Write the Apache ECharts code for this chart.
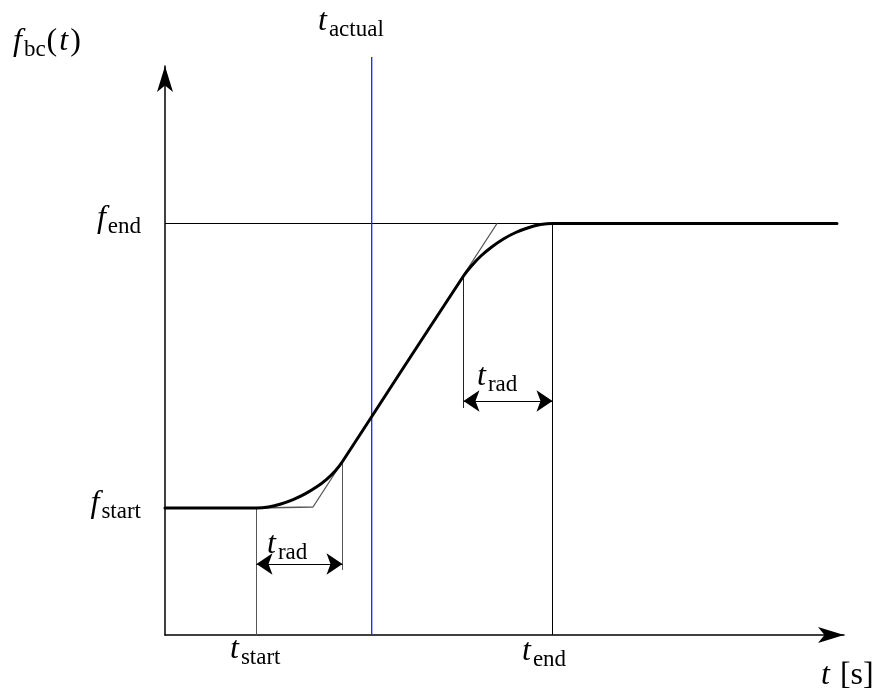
<!DOCTYPE html>
<html>
<head>
<meta charset="utf-8">
<script src="https://cdn.jsdelivr.net/npm/echarts@6/dist/echarts.min.js"></script>
<style>
  html, body { margin: 0; padding: 0; background: #fff; }
  #chart { width: 872px; height: 693px; }
</style>
</head>
<body>
<div id="chart"></div>
<script>
// Key instants and levels of the boundary-condition ramp (arbitrary units)
const T_START = 9.15;
const T_END = 38.75;
const T_ACTUAL = 20.67;
const F_START = 12.7;
const F_END = 41.15;
const T_MAX = 67.9;
const F_MAX = 56.9;
const ACTUAL_TOP = 57.8;

// Smoothed ramp f_bc(t), sampled through the two rounded corners
const curveT = [0, 9.15, 10.35, 11.58, 12.81, 14.01, 15.14, 16.16, 17.04, 17.75, 23.5,
                29.85, 30.64, 31.59, 32.67, 33.84, 35.07, 36.33, 37.56, 38.75, 67.2];
const curveF = [12.7, 12.7, 12.81, 13.10, 13.54, 14.11, 14.79, 15.57, 16.43, 17.35, 26.2,
                35.9, 36.9, 37.9, 38.8, 39.6, 40.25, 40.73, 41.04, 41.15, 41.15];

// Un-rounded linear ramp
const rampT = [9.15, 14.8, 33.2];
const rampF = [12.7, 12.8, 41.15];

// t_rad dimension markers: [t0, t1], arrow level, vertical extent of the inner guide
const radLeftT = [9.15, 17.75];
const radLeftArrowF = 7.1;
const radLeftGuideF = [6.5, 17.35];
const radRightT = [29.85, 38.75];
const radRightArrowF = 23.4;
const radRightGuideF = [22.7, 35.9];

const MATH_FONT = 'Liberation Serif';

function pairs(xs, ys) { return xs.map((x, i) => [x, ys[i]]); }

function segment(name, pts, color, width) {
  return {
    name, type: 'line', data: pts, showSymbol: false, symbol: 'none',
    clip: false, silent: true, animation: false,
    lineStyle: { color, width }, z: 2
  };
}

const rich = {
  i: { fontFamily: MATH_FONT, fontStyle: 'italic', fontSize: 32, lineHeight: 38, verticalAlign: 'middle', color: '#000', padding: [0, 1, 0, 1] },
  r: { fontFamily: MATH_FONT, fontSize: 32, lineHeight: 38, verticalAlign: 'middle', color: '#000', padding: [0, 1, 0, 1] },
  s: { fontFamily: MATH_FONT, fontSize: 23, lineHeight: 23, verticalAlign: 'bottom', color: '#000', padding: [0, 0, 0, 1] }
};

function mathLabel(text, x, y, align) {
  return {
    type: 'text', x, y, silent: true,
    style: { text, rich, align: align || 'left', verticalAlign: 'middle', fill: '#000' }
  };
}

const chart = echarts.init(document.getElementById('chart'), null, { renderer: 'canvas' });

const option = {
  backgroundColor: '#fff',
  animation: false,
  grid: { left: 165, right: 28, top: 66, bottom: 58, containLabel: false },
  xAxis: {
    type: 'value', min: 0, max: T_MAX,
    axisLine: { show: true, onZero: false, symbol: ['none', 'arrow'], symbolSize: [12, 26], lineStyle: { color: '#000', width: 1.5 } },
    axisTick: { show: false }, axisLabel: { show: false }, splitLine: { show: false }
  },
  yAxis: {
    type: 'value', min: 0, max: F_MAX,
    axisLine: { show: true, onZero: false, symbol: ['none', 'arrow'], symbolSize: [12, 26], lineStyle: { color: '#000', width: 1.5 } },
    axisTick: { show: false }, axisLabel: { show: false }, splitLine: { show: false }
  },
  series: [
    segment('f_end level', [[0, F_END], [T_END, F_END]], '#000', 1),
    segment('t_end', [[T_END, 0], [T_END, F_END]], '#000', 1),
    segment('t_start', [[T_START, 0], [T_START, F_START]], '#555', 1),
    segment('t_actual', [[T_ACTUAL, 0], [T_ACTUAL, ACTUAL_TOP]], '#2020ff', 1.3),
    segment('ramp', pairs(rampT, rampF), '#555', 1.3),
    segment('rad left guide', [[radLeftT[1], radLeftGuideF[0]], [radLeftT[1], radLeftGuideF[1]]], '#555', 1),
    segment('rad right guide', [[radRightT[0], radRightGuideF[0]], [radRightT[0], radRightGuideF[1]]], '#222', 1),
    {
      name: 'f_bc', type: 'line', data: pairs(curveT, curveF),
      showSymbol: false, symbol: 'none', smooth: 0.25,
      clip: false, silent: true, z: 5,
      lineStyle: { color: '#000', width: 3, join: 'round', cap: 'round' }
    },
    {
      name: 't_rad arrows', type: 'lines', coordinateSystem: 'cartesian2d',
      symbol: ['arrow', 'arrow'], symbolSize: 16, silent: true, z: 4,
      lineStyle: { color: '#000', width: 1.2, opacity: 1 },
      data: [
        { coords: [[radLeftT[0], radLeftArrowF], [radLeftT[1], radLeftArrowF]] },
        { coords: [[radRightT[0], radRightArrowF], [radRightT[1], radRightArrowF]] }
      ]
    }
  ],
  graphic: [
    mathLabel('{i|f}{s|bc}{r|(}{i|t}{r|)}', 12, 42),
    mathLabel('{i|t}{s|actual}', 317, 22),
    mathLabel('{i|f}{s|end}', 141, 219, 'right'),
    mathLabel('{i|f}{s|start}', 141, 504, 'right'),
    mathLabel('{i|t}{s|start}', 229, 650),
    mathLabel('{i|t}{s|end}', 521, 652),
    mathLabel('{i|t}{r| [s]}', 820, 676),
    mathLabel('{i|t}{s|rad}', 266, 545),
    mathLabel('{i|t}{s|rad}', 476, 377)
  ]
};

chart.setOption(option);
</script>
</body>
</html>
